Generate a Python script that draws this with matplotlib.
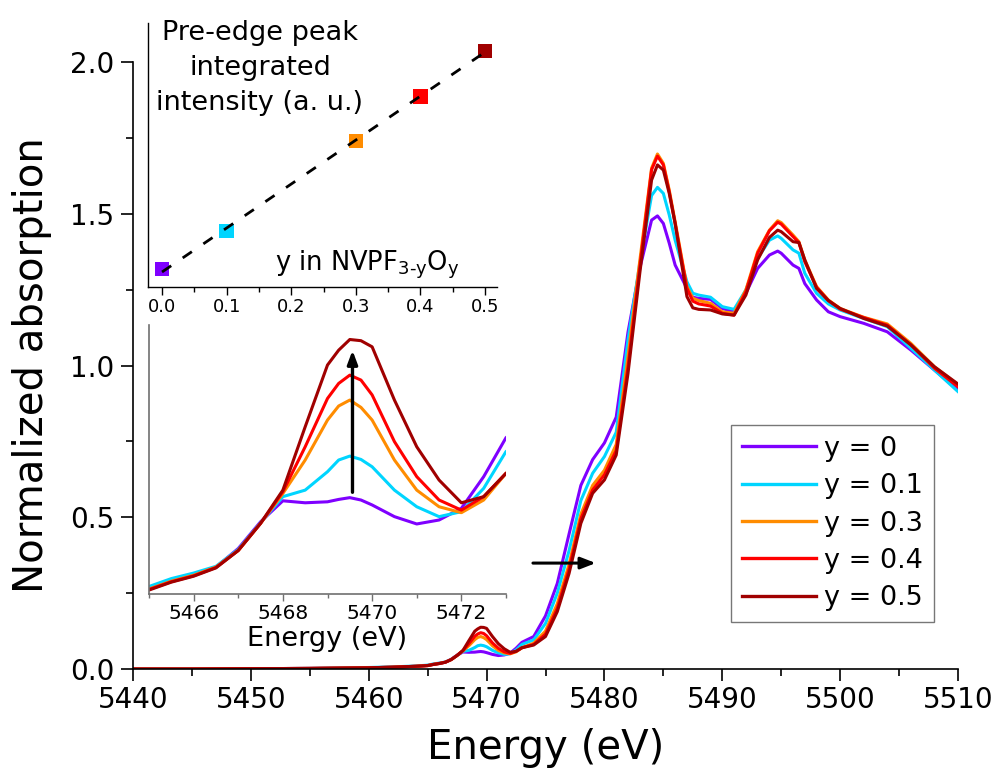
import numpy as np
import matplotlib
matplotlib.use("Agg")
import matplotlib.pyplot as plt
from matplotlib.ticker import MultipleLocator

plt.rcParams['font.family'] = ['DejaVu Sans']
plt.rcParams['mathtext.default'] = 'regular'

# ---------------- data ----------------
energy = [5440, 5445, 5450, 5455, 5460, 5462, 5464, 5465, 5465.5, 5466, 5466.5, 5467, 5467.5,
          5468, 5468.5, 5469, 5469.25, 5469.5, 5469.75, 5470, 5470.5, 5471, 5471.5, 5472, 5472.5,
          5473, 5474, 5475, 5476, 5477, 5478, 5479, 5480, 5481, 5482, 5483, 5484, 5484.5, 5485,
          5485.5, 5486, 5487, 5487.5, 5488, 5489, 5490, 5491, 5492, 5493, 5494, 5494.7, 5495,
          5496, 5496.5, 5497, 5498, 5499, 5500, 5502, 5504, 5506, 5508, 5510]

mu_y00 = [0.000, 0.000, 0.001, 0.002, 0.004, 0.006, 0.009, 0.0118, 0.0158, 0.0188, 0.0226, 0.0320, 0.0455,
          0.0561, 0.0551, 0.0556, 0.0568, 0.0577, 0.0565, 0.0540, 0.0481, 0.0444, 0.0464, 0.0523, 0.0683,
          0.0880, 0.107, 0.175, 0.282, 0.445, 0.605, 0.690, 0.745, 0.830, 1.110, 1.320, 1.479, 1.493, 1.468,
          1.403, 1.331, 1.254, 1.225, 1.221, 1.218, 1.188, 1.177, 1.238, 1.320, 1.364, 1.377, 1.370,
          1.331, 1.320, 1.270, 1.216, 1.177, 1.161, 1.139, 1.111, 1.051, 0.985, 0.919]

mu_y01 = [0.000, 0.000, 0.001, 0.002, 0.005, 0.007, 0.010, 0.0128, 0.0168, 0.0196, 0.0230, 0.0315, 0.0450,
          0.0582, 0.0615, 0.0708, 0.0767, 0.0787, 0.0770, 0.0733, 0.0615, 0.0531, 0.0481, 0.0506, 0.0624,
          0.0810, 0.096, 0.150, 0.250, 0.390, 0.555, 0.645, 0.700, 0.780, 1.084, 1.337, 1.560, 1.587, 1.567,
          1.496, 1.413, 1.276, 1.238, 1.232, 1.225, 1.194, 1.185, 1.249, 1.353, 1.413, 1.427, 1.419,
          1.381, 1.370, 1.304, 1.238, 1.203, 1.183, 1.155, 1.128, 1.057, 0.985, 0.914]

mu_y03 = [0.000, 0.000, 0.001, 0.002, 0.004, 0.006, 0.009, 0.0115, 0.0155, 0.0185, 0.0226, 0.0310, 0.0447,
          0.0598, 0.0767, 0.0969, 0.1040, 0.1070, 0.1033, 0.0969, 0.0767, 0.0615, 0.0531, 0.0501, 0.0565,
          0.0700, 0.085, 0.125, 0.215, 0.345, 0.510, 0.605, 0.655, 0.740, 1.030, 1.345, 1.650, 1.697, 1.666,
          1.578, 1.474, 1.260, 1.222, 1.214, 1.205, 1.177, 1.172, 1.249, 1.375, 1.446, 1.477, 1.471,
          1.430, 1.408, 1.348, 1.260, 1.216, 1.188, 1.159, 1.137, 1.073, 0.996, 0.936]

mu_y04 = [0.000, 0.000, 0.001, 0.002, 0.004, 0.006, 0.009, 0.0113, 0.0152, 0.0182, 0.0224, 0.0310, 0.0447,
          0.0607, 0.0834, 0.1078, 0.1154, 0.1196, 0.1171, 0.1096, 0.0860, 0.0683, 0.0565, 0.0514, 0.0582,
          0.0700, 0.081, 0.115, 0.200, 0.330, 0.495, 0.590, 0.640, 0.720, 0.996, 1.326, 1.645, 1.690, 1.661,
          1.573, 1.468, 1.254, 1.212, 1.203, 1.196, 1.172, 1.166, 1.243, 1.370, 1.444, 1.472, 1.466,
          1.425, 1.405, 1.342, 1.258, 1.214, 1.186, 1.158, 1.133, 1.068, 0.991, 0.930]

mu_y05 = [0.000, 0.000, 0.001, 0.002, 0.004, 0.006, 0.009, 0.0110, 0.0150, 0.0180, 0.0222, 0.0310, 0.0447,
          0.0615, 0.0935, 0.1247, 0.1322, 0.1376, 0.1370, 0.1339, 0.1070, 0.0834, 0.0666, 0.0551, 0.0582,
          0.0700, 0.079, 0.107, 0.189, 0.315, 0.480, 0.579, 0.623, 0.705, 0.974, 1.304, 1.611, 1.661, 1.644,
          1.567, 1.468, 1.227, 1.190, 1.185, 1.183, 1.170, 1.166, 1.232, 1.348, 1.422, 1.446, 1.441,
          1.408, 1.405, 1.348, 1.254, 1.214, 1.188, 1.155, 1.130, 1.068, 0.996, 0.939]

series_labels = ['y = 0', 'y = 0.1', 'y = 0.3', 'y = 0.4', 'y = 0.5']
series_colors = ['#7F00FF', '#00D5FF', '#FF8C00', '#FF0000', '#A00000']

# inset: pre-edge integrated intensity
y_content = [0.0, 0.1, 0.3, 0.4, 0.5]
preedge_intensity = [0.167, 0.313, 0.653, 0.822, 0.995]

spectra = [mu_y00, mu_y01, mu_y03, mu_y04, mu_y05]
for s in spectra:
    assert len(s) == len(energy)

# ---------------- figure ----------------
fig = plt.figure(figsize=(10, 7.81), dpi=100)

# main axes
ax = fig.add_axes([0.133, 0.1434, 0.825, 0.7772])
for s, c, l in zip(spectra, series_colors, series_labels):
    ax.plot(energy, s, color=c, lw=2.2, label=l)
ax.set_xlim(5440, 5510)
ax.set_ylim(0, 2.0)
ax.xaxis.set_major_locator(MultipleLocator(10))
ax.xaxis.set_minor_locator(MultipleLocator(5))
ax.yaxis.set_major_locator(MultipleLocator(0.5))
ax.yaxis.set_minor_locator(MultipleLocator(0.25))
ax.yaxis.set_major_formatter(matplotlib.ticker.FormatStrFormatter('%.1f'))
for sp in ['top', 'right']:
    ax.spines[sp].set_visible(False)
for sp in ['left', 'bottom']:
    ax.spines[sp].set_linewidth(1.2)
ax.tick_params(which='major', direction='out', length=8.5, width=1.2, labelsize=20, pad=4)
ax.tick_params(which='minor', direction='out', length=5, width=1.2)
ax.tick_params(axis='y', which='major', pad=5)
ax.set_xlabel('Energy (eV)', fontsize=29, labelpad=10)
ax.set_ylabel('Normalized absorption', fontsize=29, labelpad=13)

ax.annotate('', xy=(5479.5, 0.349), xytext=(5473.7, 0.349),
            arrowprops=dict(arrowstyle='-|>,head_length=0.9,head_width=0.35', color='black', lw=2.2))

leg = ax.legend(loc='upper left', bbox_to_anchor=(0.731, 1 - 425 / 781),
                bbox_transform=fig.transFigure, fontsize=19.5, frameon=True, fancybox=False,
                borderaxespad=0, handlelength=2.75, handletextpad=0.3, labelspacing=0.42,
                borderpad=0.4)
leg.get_frame().set_edgecolor('#555555')
leg.get_frame().set_linewidth(1.0)
for line in leg.get_lines():
    line.set_linewidth(2.4)

# inset 1: pre-edge intensity vs y
ax1 = fig.add_axes([0.148, 0.6325, 0.349, 0.338])
ax1.patch.set_alpha(0)
ax1.scatter(y_content, preedge_intensity, marker='s', s=105, c=series_colors, zorder=2, linewidths=0)
slope, intercept = np.polyfit(y_content, preedge_intensity, 1)
fit_x = np.array([0.0, 0.5])
ax1.plot(fit_x, slope * fit_x + intercept, color='black', lw=2, ls=(0, (4, 5)), zorder=3)
ax1.set_xlim(-0.0217, 0.5186)
ax1.set_ylim(0.1, 1.1)
ax1.set_yticks([])
ax1.xaxis.set_major_locator(MultipleLocator(0.1))
ax1.xaxis.set_minor_locator(MultipleLocator(0.05))
ax1.xaxis.set_major_formatter(matplotlib.ticker.FormatStrFormatter('%.1f'))
for sp in ['top', 'right']:
    ax1.spines[sp].set_visible(False)
for sp in ['left', 'bottom']:
    ax1.spines[sp].set_linewidth(1.0)
ax1.tick_params(which='major', direction='out', length=6, width=1.0, labelsize=13, pad=2)
ax1.tick_params(which='minor', direction='out', length=3.5, width=1.0)
fig.text(0.260, 1 - 20 / 781, 'Pre-edge peak\nintegrated\nintensity (a. u.)', ha='center', va='top',
         fontsize=19.5, linespacing=1.45)
fig.text(0.275, (781 - 270) / 781, r'y in NVPF$_{3\text{-}y}$O$_{y}$', ha='left', va='baseline',
         fontsize=18.5)

# inset 2: zoom on pre-edge
ax2 = fig.add_axes([0.149, 0.2394, 0.357, 0.3444])
ax2.patch.set_alpha(0)
for s, c in zip(spectra, series_colors):
    ax2.plot(energy, s, color=c, lw=2.2)
ax2.set_xlim(5465, 5473)
ax2.set_ylim(0.009, 0.1449)
ax2.set_yticks([])
ax2.xaxis.set_major_locator(MultipleLocator(2))
ax2.xaxis.set_minor_locator(MultipleLocator(1))
for sp in ['top', 'right']:
    ax2.spines[sp].set_visible(False)
for sp in ['left', 'bottom']:
    ax2.spines[sp].set_linewidth(1.2)
    ax2.spines[sp].set_color('#707070')
ax2.tick_params(which='major', direction='out', length=5, width=1.0, color='#707070',
                labelsize=14.5, pad=2)
ax2.tick_params(which='minor', direction='out', length=3, width=1.0, color='#707070')
ax2.set_xlabel('Energy (eV)', fontsize=19.5, labelpad=2)
ax2.annotate('', xy=(5469.56, 0.1335), xytext=(5469.56, 0.059),
             arrowprops=dict(arrowstyle='-|>,head_length=0.8,head_width=0.3', color='black', lw=2.4))

fig.savefig('out.png', dpi=100)
